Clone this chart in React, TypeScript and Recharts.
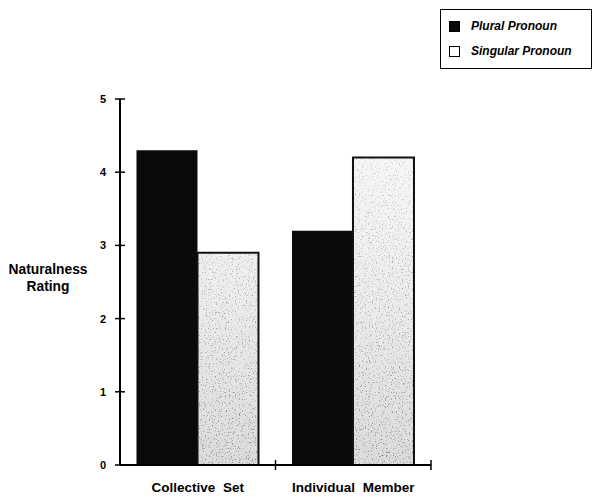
import React from "react";
import { BarChart, Bar, XAxis, YAxis } from "recharts";

const categories = ["Collective Set", "Individual Member"];
const pluralPronoun = [4.3, 3.2];
const singularPronoun = [2.9, 4.2];
const yTicks = [0, 1, 2, 3, 4, 5];
const seriesNames = ["Plural Pronoun", "Singular Pronoun"];

const data = categories.map((c, i) => ({
  category: c,
  plural: pluralPronoun[i],
  singular: singularPronoun[i],
}));

const W = 584;
const H = 487;
const MARGIN = { top: 91, right: 161, bottom: 0, left: 0 };
const Y_AXIS_W = 112;
const X_AXIS_H = 30;
const PLOT_W = W - MARGIN.left - MARGIN.right - Y_AXIS_W;
const PLOT_BOTTOM = H - MARGIN.bottom - X_AXIS_H;
const BAND = PLOT_W / categories.length;
const FONT = "'Liberation Sans', Arial, Helvetica, sans-serif";

const XTick = (props: any) => {
  const { x, y, payload } = props;
  return (
    <g>
      <line x1={x + BAND / 2} x2={x + BAND / 2} y1={y - 5} y2={y + 5} stroke="#000" strokeWidth={1.5} />
      <text x={x} y={y + 27} textAnchor="middle" fontFamily={FONT} fontWeight="bold" fontSize={13.5} wordSpacing={4} fill="#000">
        {payload.value}
      </text>
    </g>
  );
};

const YTick = (props: any) => {
  const { x, y, payload } = props;
  return (
    <g>
      <line x1={x - 5} x2={x + 5} y1={y} y2={y} stroke="#000" strokeWidth={1.5} />
      <text x={x - 14} y={y + 4} textAnchor="end" fontFamily={FONT} fontWeight="bold" fontSize={11} fill="#000">
        {payload.value}
      </text>
    </g>
  );
};

const YLabel = (props: any) => {
  const vb = props.viewBox || {};
  const cx = (vb.x || 0) + 40;
  const cy = (vb.y || 0) + (vb.height || 0) / 2;
  return (
    <text textAnchor="middle" fontFamily={FONT} fontWeight="bold" fontSize={13.8} fill="#000">
      <tspan x={cx} y={cy - 8}>Naturalness</tspan>
      <tspan x={cx} y={cy + 9}>Rating</tspan>
    </text>
  );
};

const LegendBox = () => (
  <div
    style={{
      position: "absolute",
      left: 432,
      top: 1,
      width: 152,
      height: 60,
      border: "1.5px solid #000",
      fontFamily: FONT,
      fontStyle: "italic",
      fontWeight: "bold",
      fontSize: 12,
      boxSizing: "border-box",
      background: "#fff",
    }}
  >
    {seriesNames.map((n, i) => (
      <div key={n} style={{ position: "absolute", left: 8, top: 9 + i * 25, display: "flex", alignItems: "center" }}>
        <span
          style={{
            display: "inline-block",
            width: 11,
            height: 11,
            boxSizing: "border-box",
            background: i === 0 ? "#0a0a0a" : "#fff",
            border: "1.5px solid #000",
            marginRight: 11,
          }}
        />
        <span>{n}</span>
      </div>
    ))}
  </div>
);

export default function App() {
  return (
    <div style={{ position: "relative", width: W, height: H }}>
      <BarChart
        width={W}
        height={H}
        data={data}
        margin={MARGIN}
        barCategoryGap="10.6%"
        barGap={0}
      >
        <defs>
          <linearGradient id="speckleBase" gradientUnits="userSpaceOnUse" x1="0" y1={MARGIN.top} x2="0" y2={PLOT_BOTTOM}>
            <stop offset="0%" stopColor="#fbfbfb" />
            <stop offset="50%" stopColor="#eeeeee" />
            <stop offset="100%" stopColor="#dcdcdc" />
          </linearGradient>
          <linearGradient id="speckleDensity" gradientUnits="userSpaceOnUse" x1="0" y1={MARGIN.top} x2="0" y2={PLOT_BOTTOM}>
            <stop offset="0%" stopColor="#fff" stopOpacity={0.25} />
            <stop offset="100%" stopColor="#fff" stopOpacity={1} />
          </linearGradient>
          <mask id="speckleMask" maskUnits="userSpaceOnUse" x="0" y="0" width={W} height={H}>
            <rect x="0" y="0" width={W} height={H} fill="url(#speckleDensity)" />
          </mask>
          <filter id="noise" x="0" y="0" width="100%" height="100%" filterUnits="userSpaceOnUse">
            <feTurbulence type="fractalNoise" baseFrequency="0.7" numOctaves={2} seed={3} result="n" />
            <feColorMatrix
              in="n"
              type="matrix"
              values="0 0 0 0 0.25  0 0 0 0 0.25  0 0 0 0 0.25  5 0 0 0 -2.9"
            />
          </filter>
          <pattern id="speckle" patternUnits="userSpaceOnUse" x="0" y="0" width={W} height={H}>
            <rect x="0" y="0" width={W} height={H} fill="url(#speckleBase)" />
            <g mask="url(#speckleMask)">
              <rect x="0" y="0" width={W} height={H} filter="url(#noise)" fill="#000" />
            </g>
          </pattern>
        </defs>
        <XAxis
          dataKey="category"
          height={X_AXIS_H}
          tickLine={false}
          tickSize={0}
          tickMargin={0}
          axisLine={{ stroke: "#000", strokeWidth: 2 }}
          tick={<XTick />}
          interval={0}
        />
        <YAxis
          width={Y_AXIS_W}
          domain={[0, 5]}
          ticks={yTicks}
          tickLine={false}
          tickSize={0}
          tickMargin={0}
          axisLine={{ stroke: "#000", strokeWidth: 2 }}
          tick={<YTick />}
          label={<YLabel />}
        />
        <Bar dataKey="plural" name={seriesNames[0]} fill="#0a0a0a" isAnimationActive={false} />
        <Bar
          dataKey="singular"
          name={seriesNames[1]}
          fill="url(#speckle)"
          stroke="#111"
          strokeWidth={2}
          isAnimationActive={false}
        />
      </BarChart>
      <LegendBox />
    </div>
  );
}
